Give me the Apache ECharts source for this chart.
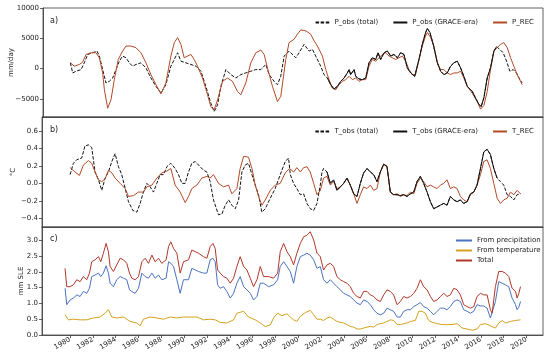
<!DOCTYPE html>
<html>
<head>
<meta charset="utf-8">
<script src="https://cdn.jsdelivr.net/npm/echarts@6/dist/echarts.min.js"></script>
<style>html,body{margin:0;padding:0;background:#fff}#c{width:550px;height:358px}</style>
</head>
<body>
<div id="c"></div>
<script>
// ---------- data (year, value) ----------
const pRec = [[1979.94,950],[1980.29,390],[1980.73,670],[1981.02,1060],[1981.32,2330],[1981.76,2610],[1982.19,2610],[1982.49,1780],[1982.78,-720],[1982.93,-3500],[1983.22,-6550],[1983.51,-5170],[1983.80,-1830],[1984.15,1500],[1984.53,2890],[1984.83,3720],[1985.26,3720],[1985.70,3450],[1986.14,2610],[1986.58,950],[1987.02,-1000],[1987.46,-2670],[1987.90,-4170],[1988.33,-2390],[1988.77,2060],[1989.07,4280],[1989.36,5110],[1989.65,4000],[1989.94,1780],[1990.24,2060],[1990.53,2330],[1990.82,1500],[1991.11,390],[1991.55,-1560],[1991.99,-4330],[1992.28,-6280],[1992.57,-6830],[1992.87,-5170],[1993.31,-2110],[1993.74,-1560],[1994.18,-2110],[1994.62,-3780],[1994.91,-4330],[1995.35,-2390],[1995.79,950],[1996.23,2610],[1996.67,3060],[1996.96,2330],[1997.25,110],[1997.69,-2940],[1998.13,-5440],[1998.42,-4610],[1998.86,1500],[1999.15,4300],[1999.59,4830],[1999.88,5670],[2000.18,6390],[2000.62,6220],[2001.05,5670],[2001.35,4560],[2001.64,3720],[2002.08,2060],[2002.37,-170],[2002.66,-1830],[2002.95,-3220],[2003.25,-3500],[2003.54,-2670],[2003.83,-2110],[2004.12,-1830],[2004.42,-1280],[2004.71,-1830],[2005.00,-1560],[2005.29,-2110],[2005.59,-1830],[2005.88,-1830],[2006.17,390],[2006.46,1500],[2006.76,1220],[2007.05,1780],[2007.34,2330],[2007.63,2610],[2007.93,2060],[2008.22,1780],[2008.51,1500],[2008.80,1780],[2009.10,2060],[2009.39,1220],[2009.68,-170],[2009.97,-1000],[2010.26,-1000],[2010.56,1500],[2010.85,3720],[2011.14,5390],[2011.29,5950],[2011.58,5110],[2011.87,3720],[2012.17,950],[2012.46,-170],[2012.75,-170],[2013.04,-720],[2013.33,-1000],[2013.63,-720],[2013.92,-720],[2014.21,-440],[2014.50,-1560],[2014.80,-2940],[2015.24,-4060],[2015.67,-5440],[2015.97,-6700],[2016.26,-6100],[2016.55,-3780],[2016.84,-170],[2017.14,2890],[2017.43,3450],[2017.72,4000],[2018.01,4280],[2018.31,3450],[2018.60,1780],[2018.89,390],[2019.18,-1000],[2019.48,-2110],[2019.62,-2670]];
const pObsPre = [[1979.94,950],[1980.15,-720],[1980.44,-440],[1980.88,-170],[1981.17,950],[1981.46,2330],[1981.90,2610],[1982.28,2890],[1982.49,2060],[1982.78,-170],[1983.07,-2390],[1983.36,-2110],[1983.66,-1560],[1983.95,-170],[1984.24,1220],[1984.53,2060],[1984.83,1780],[1985.12,950],[1985.41,390],[1985.70,670],[1986.14,950],[1986.58,110],[1987.02,-1560],[1987.46,-2940],[1987.90,-4060],[1988.33,-2670],[1988.77,390],[1989.07,1500],[1989.36,2610],[1989.65,1220],[1990.09,950],[1990.53,670],[1990.97,390],[1991.41,-440],[1991.84,-2940],[1992.28,-5720],[1992.57,-7110],[1992.87,-6000],[1993.16,-2940],[1993.60,-170],[1994.04,-1000],[1994.48,-1560],[1994.91,-1000],[1995.35,-720],[1995.79,-440],[1996.23,-170],[1996.67,-170],[1997.11,670],[1997.40,-1000],[1997.84,-2110],[1998.13,-2670],[1998.42,-1280],[1998.72,2060],[1999.15,2890],[1999.74,1780],[2000.03,2610],[2000.47,4000],[2000.91,2890],[2001.20,3170],[2001.49,2060],[2001.93,390],[2002.22,-1000]];
const pObsGrace = [[2002.52,-1560],[2002.81,-2670],[2003.10,-3390],[2003.39,-2940],[2003.69,-2110],[2003.98,-1560],[2004.27,-720],[2004.42,-170],[2004.56,-1000],[2004.86,-170],[2005.00,-1280],[2005.29,-1720],[2005.59,-1830],[2005.88,-1560],[2006.17,950],[2006.46,1780],[2006.76,1500],[2006.96,2610],[2007.19,1500],[2007.49,2610],[2007.78,2890],[2008.07,2060],[2008.36,2330],[2008.66,1780],[2008.95,2610],[2009.24,2330],[2009.53,110],[2009.83,-720],[2010.18,-1280],[2010.56,1500],[2010.85,4000],[2011.14,5950],[2011.29,6610],[2011.52,5950],[2011.81,4000],[2012.17,950],[2012.46,-440],[2012.75,-1000],[2013.04,-720],[2013.33,390],[2013.63,950],[2013.92,1220],[2014.21,110],[2014.50,-1280],[2014.80,-2940],[2015.24,-3780],[2015.53,-4890],[2015.82,-5900],[2016.02,-6300],[2016.26,-4800],[2016.55,-1560],[2016.84,110],[2017.14,2890],[2017.37,3610]];
const pObsPost = [[2017.66,3170],[2017.95,2610],[2018.25,1220],[2018.54,-440],[2018.83,-170],[2019.12,-720],[2019.42,-1830],[2019.62,-2390]];

const tRec = [[1980.00,0.18],[1980.44,0.13],[1980.82,0.09],[1981.17,0.21],[1981.61,0.26],[1981.90,0.23],[1982.19,0.13],[1982.49,0.04],[1982.78,0.02],[1983.07,0.05],[1983.36,0.15],[1983.66,0.12],[1983.95,0.06],[1984.39,0.0],[1984.83,-0.06],[1985.12,-0.15],[1985.56,-0.14],[1986.00,-0.10],[1986.43,-0.10],[1986.73,-0.04],[1987.17,-0.02],[1987.60,0.06],[1988.04,0.12],[1988.48,0.14],[1988.83,0.17],[1989.21,-0.02],[1989.65,-0.10],[1990.09,-0.22],[1990.38,-0.15],[1990.67,-0.06],[1991.11,-0.02],[1991.55,0.06],[1991.99,0.08],[1992.28,0.06],[1992.57,0.10],[1993.01,0.0],[1993.45,-0.04],[1993.89,-0.02],[1994.18,-0.12],[1994.62,-0.06],[1994.91,0.17],[1995.21,0.31],[1995.64,0.30],[1995.94,0.17],[1996.23,-0.02],[1996.52,-0.15],[1996.81,-0.25],[1997.11,-0.19],[1997.55,-0.08],[1997.98,-0.02],[1998.42,0.0],[1998.86,0.12],[1999.24,0.17],[1999.59,0.13],[1999.88,0.18],[2000.18,0.13],[2000.47,0.18],[2000.76,0.19],[2001.05,0.13],[2001.35,0.0],[2001.64,-0.13],[2001.93,-0.08],[2002.22,0.06],[2002.52,0.08],[2002.81,-0.02],[2003.10,0.02],[2003.39,-0.06],[2003.69,-0.04],[2003.98,0.0],[2004.27,0.06],[2004.56,-0.02],[2004.86,-0.12],[2005.15,-0.23],[2005.44,-0.13],[2005.73,-0.04],[2006.03,-0.06],[2006.32,-0.02],[2006.61,-0.08],[2006.90,-0.06],[2007.19,0.13],[2007.49,0.22],[2007.78,0.20],[2008.07,-0.10],[2008.36,-0.13],[2008.66,-0.12],[2008.95,-0.15],[2009.24,-0.13],[2009.53,-0.14],[2009.83,-0.10],[2010.12,-0.12],[2010.41,0.0],[2010.70,0.06],[2010.99,0.02],[2011.29,-0.04],[2011.58,-0.02],[2011.87,-0.04],[2012.17,-0.06],[2012.46,-0.02],[2012.75,0.0],[2013.04,0.04],[2013.33,-0.06],[2013.63,-0.04],[2013.92,-0.06],[2014.21,-0.15],[2014.50,-0.19],[2014.80,-0.21],[2015.09,-0.13],[2015.38,-0.10],[2015.67,-0.02],[2015.97,0.10],[2016.26,0.25],[2016.55,0.27],[2016.84,0.17],[2017.14,0.0],[2017.43,-0.17],[2017.72,-0.23],[2018.01,-0.19],[2018.31,-0.17],[2018.60,-0.10],[2018.89,-0.13],[2019.18,-0.08],[2019.48,-0.12]];
const tObsPre = [[1980.00,0.10],[1980.29,0.23],[1980.58,0.27],[1981.02,0.29],[1981.31,0.43],[1981.61,0.44],[1981.90,0.41],[1982.19,0.13],[1982.49,0.04],[1982.78,-0.08],[1983.07,0.06],[1983.36,0.13],[1983.66,0.25],[1983.95,0.34],[1984.24,0.19],[1984.53,0.10],[1984.83,-0.06],[1985.12,-0.21],[1985.50,-0.31],[1985.85,-0.33],[1986.14,-0.23],[1986.43,-0.10],[1986.73,0.0],[1987.02,-0.04],[1987.31,-0.10],[1987.60,0.0],[1987.90,0.10],[1988.19,0.10],[1988.48,0.19],[1988.83,0.23],[1989.21,0.17],[1989.50,0.10],[1989.80,0.0],[1990.09,0.0],[1990.38,0.13],[1990.67,0.23],[1990.97,0.25],[1991.26,0.21],[1991.70,0.15],[1991.99,0.13],[1992.28,0.02],[1992.57,-0.19],[1993.01,-0.36],[1993.31,-0.35],[1993.60,-0.25],[1993.89,-0.19],[1994.18,-0.25],[1994.48,-0.29],[1994.77,-0.19],[1995.06,0.13],[1995.35,0.21],[1995.64,0.23],[1995.94,0.10],[1996.23,-0.02],[1996.52,-0.13],[1996.81,-0.33],[1997.11,-0.29],[1997.55,-0.17],[1997.98,-0.06],[1998.42,0.10],[1998.86,0.25],[1999.15,0.29],[1999.30,0.10],[1999.59,0.0],[1999.88,-0.06],[2000.18,-0.13],[2000.47,-0.12],[2000.76,-0.23],[2001.05,-0.29],[2001.35,-0.31],[2001.64,-0.23],[2001.93,-0.02],[2002.08,0.13],[2002.22,0.17],[2002.37,0.15]];
const tObsGrace = [[2002.52,0.13],[2002.81,0.0],[2003.10,0.04],[2003.39,-0.08],[2003.69,-0.04],[2003.98,0.0],[2004.27,0.06],[2004.56,-0.02],[2004.86,-0.12],[2005.15,-0.15],[2005.44,0.0],[2005.73,0.12],[2006.03,0.17],[2006.32,0.13],[2006.61,0.10],[2006.90,0.02],[2007.19,0.13],[2007.49,0.22],[2007.78,0.19],[2008.07,-0.10],[2008.36,-0.13],[2008.66,-0.13],[2008.95,-0.14],[2009.24,-0.13],[2009.53,-0.15],[2009.83,-0.12],[2010.12,-0.10],[2010.41,0.02],[2010.70,0.08],[2010.99,0.0],[2011.29,-0.10],[2011.58,-0.21],[2011.87,-0.29],[2012.17,-0.27],[2012.46,-0.25],[2012.75,-0.23],[2013.04,-0.25],[2013.33,-0.15],[2013.63,-0.19],[2013.92,-0.21],[2014.21,-0.19],[2014.50,-0.23],[2014.80,-0.21],[2015.09,-0.12],[2015.38,-0.10],[2015.67,-0.02],[2015.97,0.17],[2016.26,0.36],[2016.55,0.39],[2016.84,0.33],[2017.14,0.17],[2017.43,0.06]];
const tObsPost = [[2017.72,0.02],[2018.01,-0.02],[2018.31,-0.13],[2018.60,-0.15],[2018.89,-0.19],[2019.18,-0.13],[2019.48,-0.12]];

const sleTotal = [[1979.56,2.11],[1979.71,1.53],[1980.00,1.53],[1980.29,1.59],[1980.59,1.75],[1980.88,1.69],[1981.17,1.85],[1981.46,1.75],[1981.70,1.96],[1981.90,2.32],[1982.19,2.38],[1982.49,2.48],[1982.69,2.32],[1982.92,2.59],[1983.16,2.90],[1983.36,2.64],[1983.51,2.17],[1983.80,2.01],[1984.09,2.22],[1984.39,2.43],[1984.68,2.38],[1984.97,2.27],[1985.21,1.96],[1985.41,1.80],[1985.70,1.75],[1986.00,1.85],[1986.29,2.32],[1986.58,2.43],[1986.87,2.27],[1987.17,2.53],[1987.46,2.32],[1987.75,2.43],[1988.04,2.27],[1988.42,2.38],[1988.63,2.80],[1988.83,2.95],[1989.07,2.74],[1989.36,2.59],[1989.65,1.96],[1989.94,2.32],[1990.38,2.38],[1990.67,2.69],[1990.97,2.64],[1991.26,2.59],[1991.70,2.48],[1991.99,2.43],[1992.28,2.80],[1992.52,2.90],[1992.72,2.74],[1992.93,2.06],[1993.16,1.96],[1993.45,1.85],[1993.74,1.80],[1994.04,1.64],[1994.33,1.80],[1994.62,2.17],[1994.91,2.48],[1995.21,2.17],[1995.50,2.06],[1995.79,1.80],[1996.08,1.53],[1996.38,1.75],[1996.67,2.17],[1996.96,1.85],[1997.40,1.85],[1997.84,1.80],[1998.19,1.96],[1998.42,2.64],[1998.72,2.90],[1999.01,2.64],[1999.30,2.48],[1999.59,2.22],[1999.88,2.59],[2000.18,2.90],[2000.47,3.11],[2000.76,3.16],[2001.05,3.27],[2001.35,3.01],[2001.64,2.59],[2001.93,2.48],[2002.22,2.06],[2002.52,2.22],[2002.81,2.27],[2003.10,2.17],[2003.39,1.85],[2003.69,1.75],[2003.98,1.69],[2004.27,1.64],[2004.56,1.53],[2004.86,1.32],[2005.15,1.22],[2005.44,1.17],[2005.73,1.38],[2006.03,1.38],[2006.32,1.27],[2006.61,1.22],[2006.90,1.11],[2007.19,1.06],[2007.49,1.27],[2007.78,1.43],[2008.07,1.38],[2008.36,1.27],[2008.66,0.96],[2008.95,1.06],[2009.24,1.22],[2009.53,1.17],[2009.83,1.22],[2010.12,1.32],[2010.41,1.48],[2010.70,1.75],[2010.99,1.53],[2011.29,1.43],[2011.58,1.22],[2011.87,1.06],[2012.17,1.11],[2012.46,1.22],[2012.75,1.32],[2013.04,1.22],[2013.33,1.27],[2013.63,1.48],[2013.92,1.43],[2014.21,1.27],[2014.50,0.96],[2014.80,0.90],[2015.09,0.85],[2015.38,0.90],[2015.67,1.22],[2015.97,1.32],[2016.26,1.27],[2016.55,1.27],[2016.84,0.80],[2016.99,0.69],[2017.28,1.53],[2017.57,2.01],[2017.87,2.01],[2018.16,1.96],[2018.45,1.85],[2018.74,1.48],[2019.04,1.38],[2019.18,1.17],[2019.33,1.32],[2019.48,1.53]];
const slePrecip = [[1979.56,1.48],[1979.71,0.96],[1980.00,1.11],[1980.29,1.17],[1980.59,1.27],[1980.88,1.22],[1981.17,1.38],[1981.46,1.32],[1981.70,1.48],[1981.90,1.85],[1982.19,1.90],[1982.49,1.96],[1982.69,1.85],[1982.92,1.96],[1983.16,2.19],[1983.36,1.96],[1983.51,1.64],[1983.80,1.53],[1984.09,1.75],[1984.39,1.85],[1984.68,1.80],[1984.97,1.75],[1985.21,1.43],[1985.41,1.38],[1985.70,1.32],[1986.00,1.48],[1986.29,1.96],[1986.58,1.85],[1986.87,1.80],[1987.17,1.96],[1987.46,1.80],[1987.75,1.90],[1988.04,1.75],[1988.42,1.80],[1988.63,2.32],[1988.83,2.27],[1989.07,2.17],[1989.36,1.75],[1989.65,1.32],[1989.94,1.75],[1990.38,1.75],[1990.67,2.11],[1990.97,2.06],[1991.26,2.01],[1991.70,1.96],[1991.99,1.96],[1992.28,2.38],[1992.52,2.43],[1992.72,2.32],[1992.93,1.59],[1993.16,1.48],[1993.45,1.53],[1993.74,1.38],[1994.04,1.17],[1994.33,1.32],[1994.62,1.64],[1994.91,1.85],[1995.21,1.53],[1995.50,1.43],[1995.79,1.32],[1996.08,1.11],[1996.38,1.22],[1996.67,1.64],[1996.96,1.64],[1997.40,1.53],[1997.84,1.59],[1998.19,1.75],[1998.42,2.17],[1998.72,2.32],[1999.01,2.17],[1999.30,2.01],[1999.59,1.64],[1999.88,2.17],[2000.18,2.48],[2000.47,2.53],[2000.76,2.59],[2001.05,2.53],[2001.35,2.38],[2001.64,2.11],[2001.93,2.17],[2002.22,1.75],[2002.52,1.64],[2002.81,1.75],[2003.10,1.64],[2003.39,1.53],[2003.69,1.43],[2003.98,1.32],[2004.27,1.27],[2004.56,1.22],[2004.86,1.11],[2005.15,1.01],[2005.44,0.96],[2005.73,1.11],[2006.03,1.06],[2006.32,0.96],[2006.61,0.80],[2006.90,0.69],[2007.19,0.64],[2007.49,0.69],[2007.78,0.85],[2008.07,0.80],[2008.36,0.75],[2008.66,0.57],[2008.95,0.57],[2009.24,0.75],[2009.53,0.80],[2009.83,0.80],[2010.12,0.90],[2010.41,0.96],[2010.70,1.03],[2010.99,0.90],[2011.29,0.85],[2011.58,0.75],[2011.87,0.64],[2012.17,0.75],[2012.46,0.85],[2012.75,0.85],[2013.04,0.80],[2013.33,0.90],[2013.63,1.06],[2013.92,1.11],[2014.21,1.06],[2014.50,0.80],[2014.80,0.75],[2015.09,0.69],[2015.38,0.75],[2015.67,0.96],[2015.97,0.92],[2016.26,0.92],[2016.55,0.85],[2016.84,0.54],[2016.99,0.48],[2017.28,1.06],[2017.57,1.69],[2017.87,1.64],[2018.16,1.59],[2018.45,1.53],[2018.74,1.17],[2019.04,0.96],[2019.18,0.80],[2019.33,0.88],[2019.48,1.06]];
const sleTemp = [[1979.56,0.64],[1979.85,0.48],[1980.29,0.50],[1980.88,0.48],[1981.46,0.48],[1982.05,0.54],[1982.63,0.57],[1983.07,0.69],[1983.36,0.80],[1983.66,0.57],[1984.09,0.54],[1984.68,0.57],[1985.26,0.43],[1985.85,0.38],[1986.14,0.29],[1986.43,0.50],[1987.02,0.57],[1987.60,0.54],[1988.19,0.50],[1988.77,0.57],[1989.36,0.54],[1989.94,0.57],[1990.53,0.57],[1991.11,0.57],[1991.70,0.48],[1992.28,0.50],[1992.72,0.48],[1993.16,0.40],[1993.74,0.38],[1994.33,0.48],[1994.62,0.69],[1995.21,0.75],[1995.64,0.57],[1996.23,0.48],[1996.67,0.38],[1997.11,0.27],[1997.55,0.32],[1997.84,0.54],[1998.19,0.69],[1998.57,0.61],[1999.01,0.67],[1999.30,0.57],[1999.59,0.48],[1999.88,0.43],[2000.18,0.59],[2000.62,0.71],[2001.05,0.78],[2001.35,0.64],[2001.64,0.50],[2001.93,0.50],[2002.22,0.46],[2002.52,0.54],[2002.81,0.57],[2003.10,0.50],[2003.39,0.43],[2003.69,0.40],[2003.98,0.38],[2004.27,0.33],[2004.56,0.27],[2004.86,0.25],[2005.15,0.19],[2005.44,0.19],[2005.73,0.22],[2006.03,0.25],[2006.32,0.27],[2006.61,0.25],[2006.90,0.33],[2007.19,0.36],[2007.49,0.38],[2007.78,0.43],[2008.07,0.48],[2008.36,0.46],[2008.66,0.33],[2008.95,0.33],[2009.24,0.36],[2009.53,0.38],[2009.83,0.43],[2010.26,0.46],[2010.56,0.75],[2010.85,0.75],[2011.14,0.69],[2011.43,0.46],[2011.73,0.40],[2012.17,0.36],[2012.60,0.33],[2013.04,0.33],[2013.48,0.33],[2013.92,0.36],[2014.36,0.22],[2014.80,0.19],[2015.24,0.15],[2015.67,0.19],[2015.97,0.33],[2016.41,0.36],[2016.84,0.29],[2017.28,0.22],[2017.57,0.38],[2017.87,0.46],[2018.16,0.38],[2018.60,0.43],[2019.04,0.46],[2019.48,0.48]];

const yearTicks = [1980,1982,1984,1986,1988,1990,1992,1994,1996,1998,2000,2002,2004,2006,2008,2010,2012,2014,2016,2018,2020];
const ticksA = [-5000, 0, 5000, 10000];
const ticksB = [-0.4, -0.2, 0.0, 0.2, 0.4, 0.6];
const ticksC = [0.0, 0.5, 1.0, 1.5, 2.0, 2.5, 3.0];

// ---------- chart ----------
const FONT = 'DejaVu Sans';
const AX = '#3a3a3a';
const REC = '#b24a28';
const TOT = '#b0382a';
const BLUE = '#4a72c0';
const GOLD = '#d4a21e';
const minus = s => String(s).replace('-', '\u2212');

const X0 = 1977.54, X1 = 2021.45;
function xAxis(i, labels) {
  return {
    type: 'value', gridIndex: i, min: X0, max: X1,
    axisLine: { show: true, onZero: false, lineStyle: { color: AX, width: 0.8 } },
    axisTick: { show: labels, customValues: yearTicks, length: 3, lineStyle: { color: AX, width: 0.8 } },
    axisLabel: { show: labels, customValues: yearTicks, rotate: 30, margin: 4,
      fontFamily: FONT, fontSize: 7, color: '#222', formatter: v => String(v) },
    splitLine: { show: false }
  };
}
function yAxis(i, min, max, ticks, name, gap, fmt) {
  return {
    type: 'value', gridIndex: i, min: min, max: max,
    name: name, nameLocation: 'middle', nameGap: gap, nameMoveOverlap: false,
    nameTextStyle: { fontFamily: FONT, fontSize: 7, color: '#222' },
    axisLine: { show: true, lineStyle: { color: AX, width: 0.8 } },
    axisTick: { show: true, customValues: ticks, length: 3, lineStyle: { color: AX, width: 0.8 } },
    axisLabel: { customValues: ticks, margin: 4, fontFamily: FONT, fontSize: 7, color: '#222', formatter: fmt },
    splitLine: { show: false }
  };
}
function line(name, data, xi, color, dashed, w) {
  return { name: name, type: 'line', xAxisIndex: xi, yAxisIndex: xi, data: data,
    symbol: 'none', showSymbol: false, animation: false, smooth: false,
    lineStyle: { color: color, width: w || 1, type: dashed ? [3.5, 1.6] : 'solid' },
    itemStyle: { color: color } };
}
const legendText = { fontFamily: FONT, fontSize: 7, color: '#222' };
const legendBase = { itemWidth: 14, itemHeight: 6, itemStyle: { opacity: 0 }, textStyle: legendText };

const chart = echarts.init(document.getElementById('c'), null, { renderer: 'canvas' });
chart.setOption({
  animation: false,
  backgroundColor: '#fff',
  grid: [
    { left: 42, right: 7, top: 8, height: 109, show: true, borderColor: AX, borderWidth: 0.8, backgroundColor: 'transparent' },
    { left: 42, right: 7, top: 117, height: 110, show: true, borderColor: AX, borderWidth: 0.8, backgroundColor: 'transparent' },
    { left: 42, right: 7, top: 227, height: 108, show: true, borderColor: AX, borderWidth: 0.8, backgroundColor: 'transparent' }
  ],
  xAxis: [xAxis(0, false), xAxis(1, false), xAxis(2, true)],
  yAxis: [
    yAxis(0, -8000, 10000, ticksA, 'mm/day', 28, v => minus(v)),
    yAxis(1, -0.5, 0.76, ticksB, '°C', 25, v => minus(v.toFixed(1))),
    yAxis(2, 0, 3.42, ticksC, 'mm SLE', 17, v => v.toFixed(1))
  ],
  title: [
    { text: 'a)', left: 45, top: 12, textStyle: { fontFamily: FONT, fontSize: 8, fontWeight: 'normal', color: '#222' } },
    { text: 'b)', left: 45, top: 121, textStyle: { fontFamily: FONT, fontSize: 8, fontWeight: 'normal', color: '#222' } },
    { text: 'c)', left: 45, top: 230, textStyle: { fontFamily: FONT, fontSize: 8, fontWeight: 'normal', color: '#222' } }
  ],
  legend: [
    Object.assign({ data: ['P_obs (total)', 'P_obs (GRACE-era)', 'P_REC'], right: 11, top: 14, itemGap: 14 }, legendBase),
    Object.assign({ data: ['T_obs (total)', 'T_obs (GRACE-era)', 'T_REC'], right: 11, top: 123, itemGap: 14 }, legendBase),
    Object.assign({ data: ['From precipitation', 'From temperature', 'Total'], orient: 'vertical', left: 450, top: 232, itemGap: 3 }, legendBase, { itemWidth: 16 })
  ],
  series: [
    line('P_obs (total)', pObsPre.concat(pObsGrace, pObsPost), 0, '#111', true, 1),
    line('P_REC', pRec, 0, REC, false, 1),
    line('P_obs (GRACE-era)', pObsGrace, 0, '#111', false, 1),
    line('T_obs (total)', tObsPre.concat(tObsGrace, tObsPost), 1, '#111', true, 1),
    line('T_REC', tRec, 1, REC, false, 1),
    line('T_obs (GRACE-era)', tObsGrace, 1, '#111', false, 1),
    line('From precipitation', slePrecip, 2, BLUE, false, 1),
    line('From temperature', sleTemp, 2, GOLD, false, 1),
    line('Total', sleTotal, 2, TOT, false, 1)
  ]
});
</script>
</body>
</html>
